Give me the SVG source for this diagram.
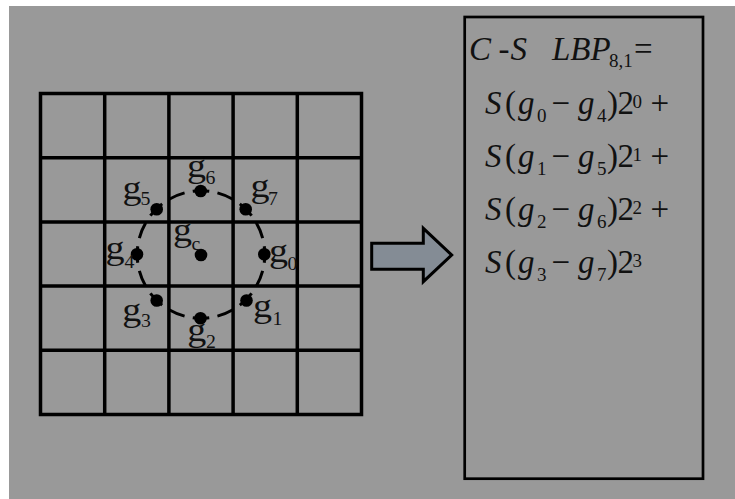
<svg xmlns="http://www.w3.org/2000/svg" width="735" height="499" viewBox="0 0 735 499">
  <style>
    .grid { fill: none; stroke: #000; stroke-width: 3.5; stroke-linecap: square; }
    .ring { fill: none; stroke: #000; stroke-width: 3; }
    .dot { fill: #000; }
    .lbl { font-family: "Liberation Serif", "Times New Roman", serif; font-size: 34px; fill: #111; }
    .sub { font-family: "Liberation Serif", "Times New Roman", serif; font-size: 18px; fill: #111; }
    .f { font-family: "Liberation Serif", "Times New Roman", serif; font-size: 33px; fill: #111; }
    .fi { font-style: italic; }
    .fs { font-family: "Liberation Serif", "Times New Roman", serif; font-size: 19px; fill: #111; }
    .box { fill: none; stroke: #000; stroke-width: 2.7; }
    .arrow { fill: #848c95; stroke: #000; stroke-width: 3; stroke-linejoin: miter; }
  </style>

  <!-- canvas -->
  <rect x="0" y="0" width="735" height="499" fill="#fff"/>
  <rect x="9" y="6" width="726" height="493" fill="#999"/>

  <!-- 5x5 pixel neighbourhood -->
  <g id="grid">
    <path class="grid" d="M40.5 93.5H361.5V414.5H40.5Z
      M104.7 93.5V414.5 M168.9 93.5V414.5 M233.1 93.5V414.5 M297.3 93.5V414.5
      M40.5 157.7H361.5 M40.5 221.9H361.5 M40.5 286.1H361.5 M40.5 350.3H361.5"/>
  </g>

  <!-- sampling circle, radius 1 -->
  <g id="circle">
    <circle class="ring" cx="201" cy="254.5" r="63.8" pathLength="360" stroke-dasharray="15 7.5" stroke-dashoffset="7.5"/>
  </g>

  <!-- sample points -->
  <g id="points">
    <g id="p0"><circle class="dot" cx="264.3" cy="254.3" r="6.3"/></g>
    <g id="p1"><circle class="dot" cx="246.5" cy="300.5" r="6.3"/></g>
    <g id="p2"><circle class="dot" cx="200.5" cy="318.3" r="6.3"/></g>
    <g id="p3"><circle class="dot" cx="156.7" cy="300.5" r="6.3"/></g>
    <g id="p4"><circle class="dot" cx="137" cy="254.3" r="6.3"/></g>
    <g id="p5"><circle class="dot" cx="156.7" cy="209.3" r="6.3"/></g>
    <g id="p6"><circle class="dot" cx="200.7" cy="191" r="6.3"/></g>
    <g id="p7"><circle class="dot" cx="245.7" cy="209.3" r="6.3"/></g>
    <g id="pc"><circle class="dot" cx="201" cy="255" r="6.3"/></g>
  </g>

  <!-- point labels (slightly widened glyphs) -->
  <g id="labels">
    <g id="l5"><text class="lbl" transform="translate(122.5 199) scale(1.12 1)">g</text><text class="sub" transform="translate(140.5 205) scale(1.1 1)">5</text></g>
    <g id="l6"><text class="lbl" transform="translate(187 177.3) scale(1.12 1)">g</text><text class="sub" transform="translate(205.5 183.5) scale(1.1 1)">6</text></g>
    <g id="l7"><text class="lbl" transform="translate(250.5 197.3) scale(1.12 1)">g</text><text class="sub" transform="translate(268 205) scale(1.1 1)">7</text></g>
    <g id="lc"><text class="lbl" transform="translate(173 240.8) scale(1.12 1)">g</text><text class="sub" transform="translate(191.5 250) scale(1.1 1)">c</text></g>
    <g id="l4"><text class="lbl" transform="translate(105.5 259) scale(1.12 1)">g</text><text class="sub" transform="translate(124.5 268) scale(1.1 1)">4</text></g>
    <g id="l0"><text class="lbl" transform="translate(269 262.3) scale(1.12 1)">g</text><text class="sub" transform="translate(287.5 270) scale(1.1 1)">0</text></g>
    <g id="l3"><text class="lbl" transform="translate(122.3 320.8) scale(1.12 1)">g</text><text class="sub" transform="translate(141 326.7) scale(1.1 1)">3</text></g>
    <g id="l2"><text class="lbl" transform="translate(187.3 340.8) scale(1.12 1)">g</text><text class="sub" transform="translate(206 348) scale(1.1 1)">2</text></g>
    <g id="l1"><text class="lbl" transform="translate(253 317.3) scale(1.12 1)">g</text><text class="sub" transform="translate(272.5 325) scale(1.1 1)">1</text></g>
  </g>

  <!-- block arrow -->
  <g id="connectors">
    <polygon class="arrow" points="371.7,243.3 423.3,243.3 423.3,228.3 451.7,255 423.3,281.7 423.3,269.3 371.7,269.3"/>
  </g>

  <!-- formula panel -->
  <g id="formula">
    <rect class="box" x="464.7" y="17" width="238.3" height="461.7"/>
    <text class="f fi" x="469" y="60">C</text>
    <text class="f" x="498.5" y="60">-</text>
    <text class="f fi" x="510.5" y="60">S</text>
    <text class="f fi" x="552" y="60">LBP</text>
    <text class="fs" x="609" y="66.5">8,1</text>
    <text class="f" x="634" y="60">=</text>

    <g id="t0">
      <text class="f fi" x="485" y="114">S</text>
      <text class="f" x="505" y="114">(</text>
      <text class="f fi" x="518" y="114">g</text>
      <text class="fs" x="537" y="121.5">0</text>
      <text class="f" x="551.5" y="114">−</text>
      <text class="f fi" x="578" y="114">g</text>
      <text class="fs" x="597" y="121.5">4</text>
      <text class="f" x="607" y="114">)</text>
      <text class="f" x="617.5" y="114">2</text>
      <text class="fs" x="632.5" y="107.5">0</text>
      <text class="f" x="650.5" y="114">+</text>
    </g>
    <g id="t1" transform="translate(0,53)">
      <text class="f fi" x="485" y="114">S</text>
      <text class="f" x="505" y="114">(</text>
      <text class="f fi" x="518" y="114">g</text>
      <text class="fs" x="537" y="121.5">1</text>
      <text class="f" x="551.5" y="114">−</text>
      <text class="f fi" x="578" y="114">g</text>
      <text class="fs" x="597" y="121.5">5</text>
      <text class="f" x="607" y="114">)</text>
      <text class="f" x="617.5" y="114">2</text>
      <text class="fs" x="632.5" y="107.5">1</text>
      <text class="f" x="650.5" y="114">+</text>
    </g>
    <g id="t2" transform="translate(0,106)">
      <text class="f fi" x="485" y="114">S</text>
      <text class="f" x="505" y="114">(</text>
      <text class="f fi" x="518" y="114">g</text>
      <text class="fs" x="537" y="121.5">2</text>
      <text class="f" x="551.5" y="114">−</text>
      <text class="f fi" x="578" y="114">g</text>
      <text class="fs" x="597" y="121.5">6</text>
      <text class="f" x="607" y="114">)</text>
      <text class="f" x="617.5" y="114">2</text>
      <text class="fs" x="632.5" y="107.5">2</text>
      <text class="f" x="650.5" y="114">+</text>
    </g>
    <g id="t3" transform="translate(0,159)">
      <text class="f fi" x="485" y="114">S</text>
      <text class="f" x="505" y="114">(</text>
      <text class="f fi" x="518" y="114">g</text>
      <text class="fs" x="537" y="121.5">3</text>
      <text class="f" x="551.5" y="114">−</text>
      <text class="f fi" x="578" y="114">g</text>
      <text class="fs" x="597" y="121.5">7</text>
      <text class="f" x="607" y="114">)</text>
      <text class="f" x="617.5" y="114">2</text>
      <text class="fs" x="632.5" y="107.5">3</text>
    </g>
  </g>
</svg>
